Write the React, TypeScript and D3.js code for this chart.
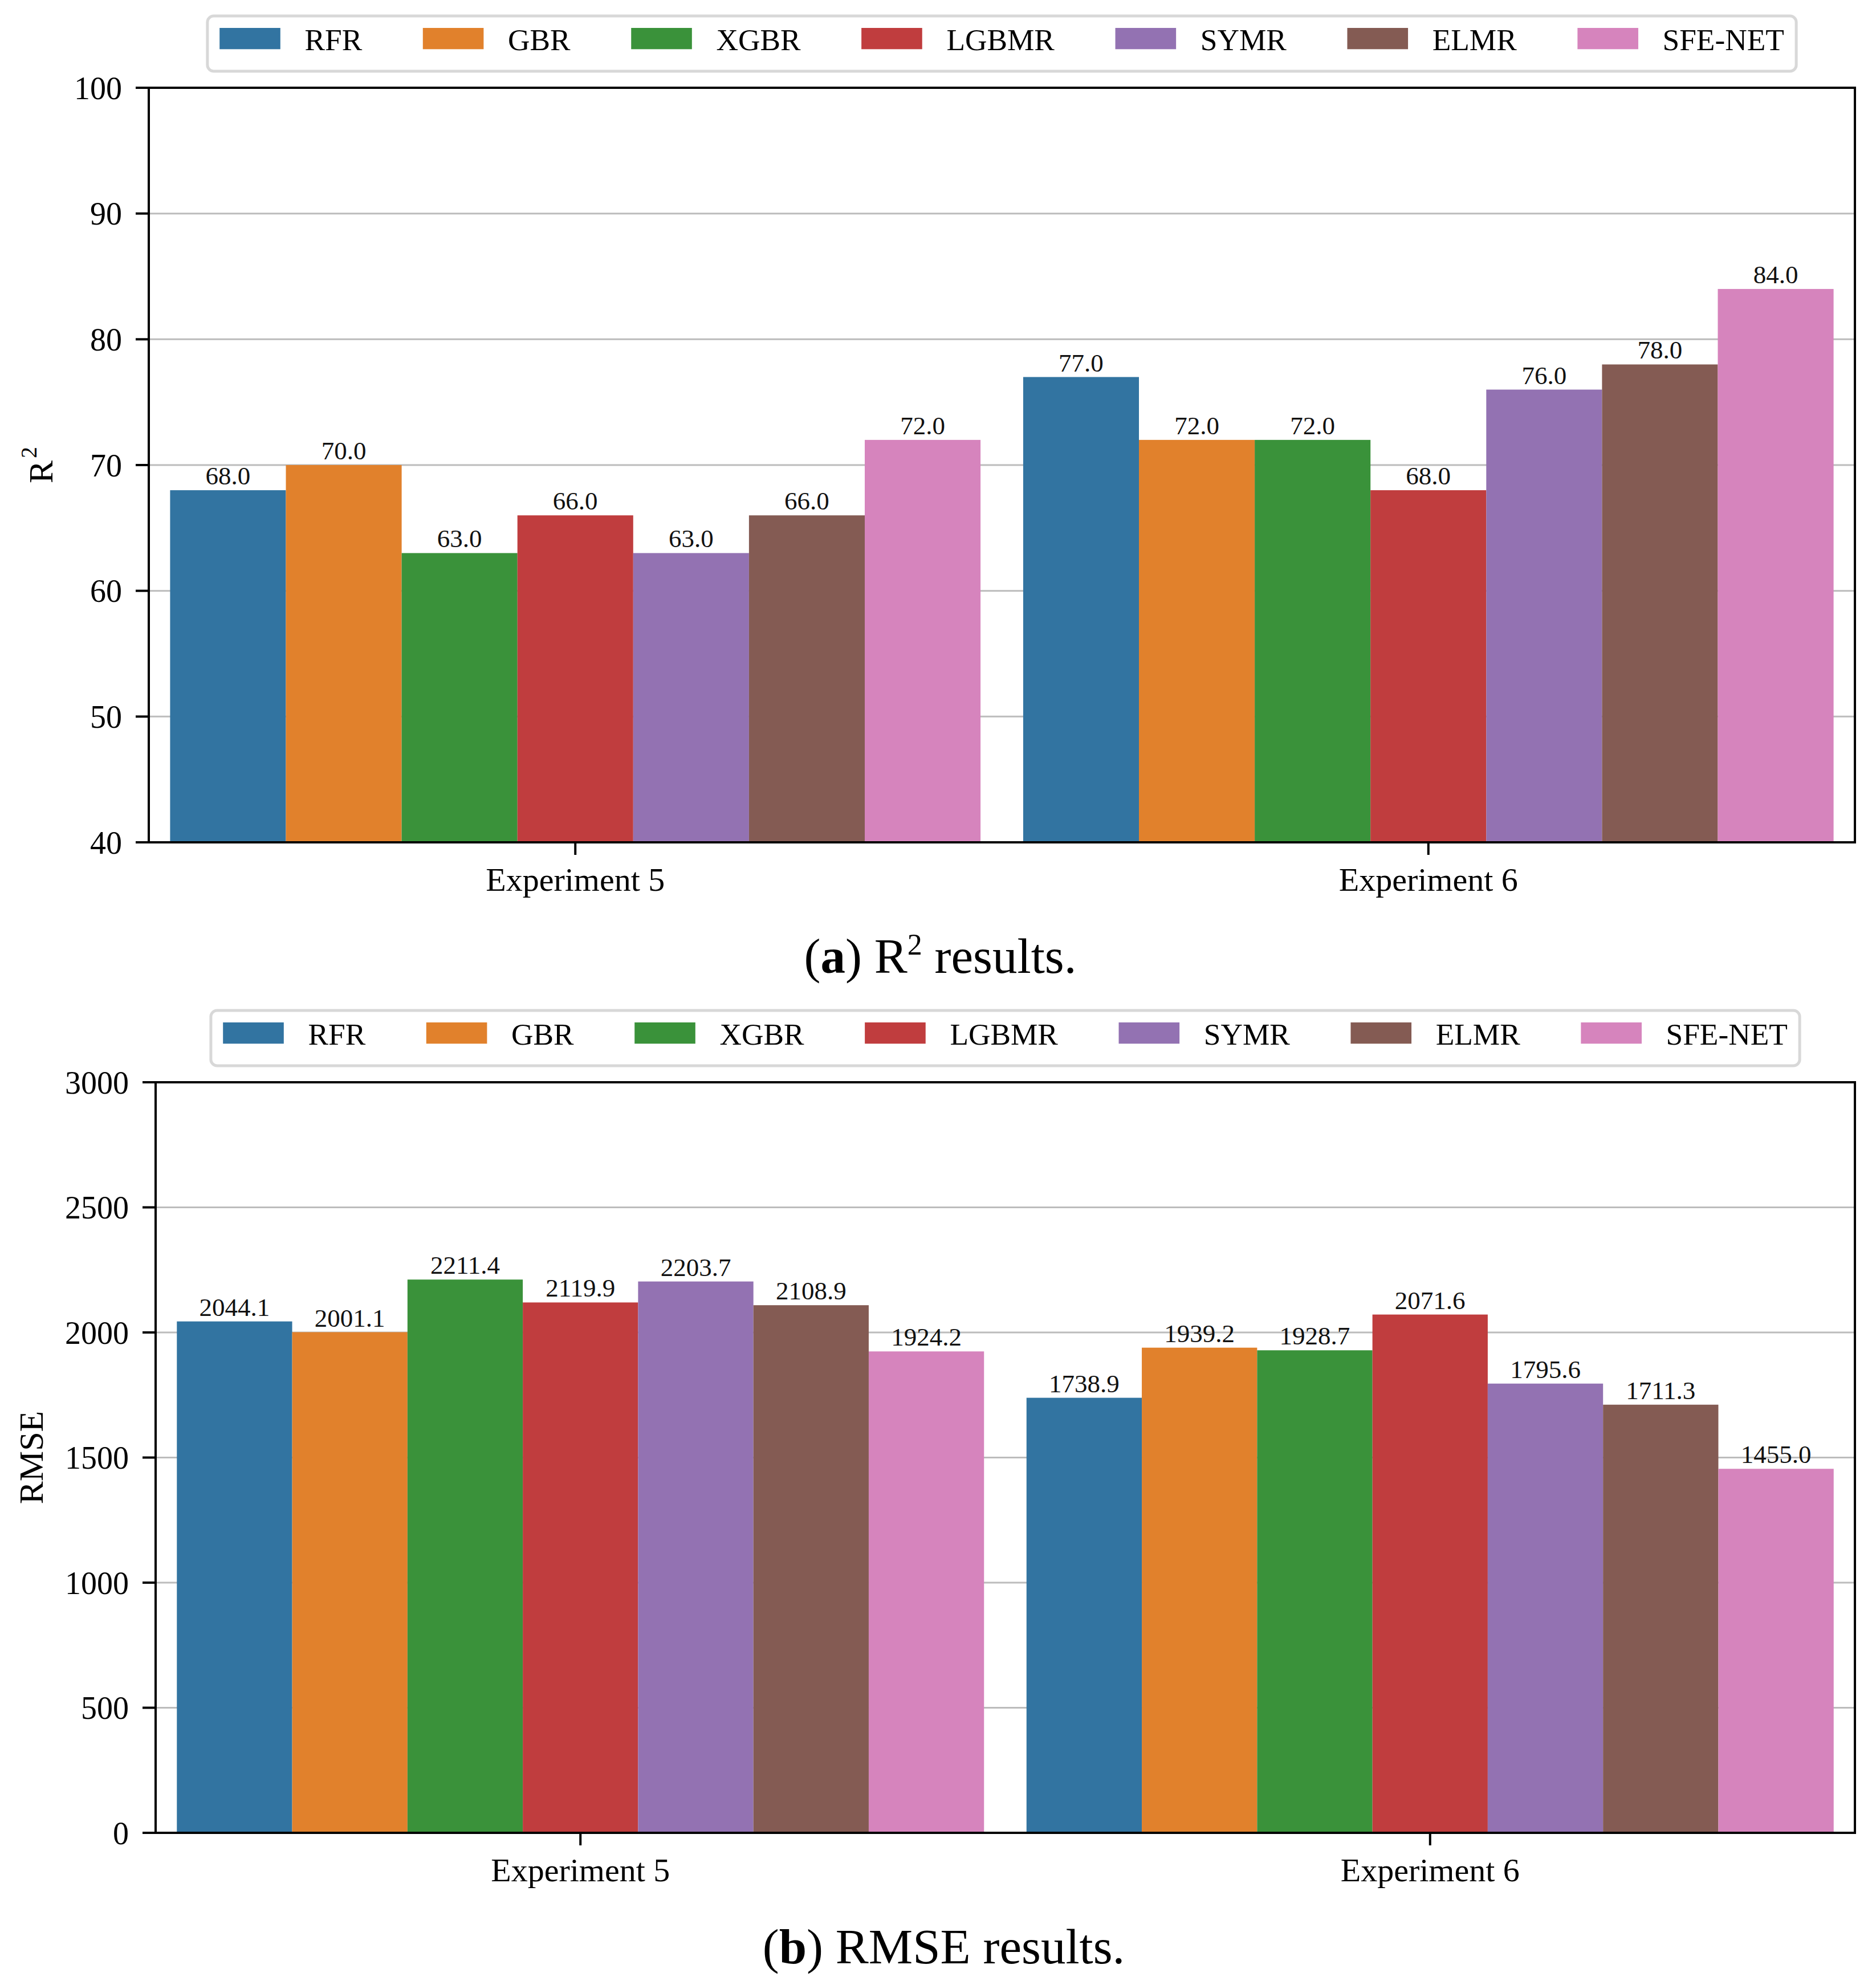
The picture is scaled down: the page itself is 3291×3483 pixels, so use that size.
import React, { useEffect, useRef } from "react";
import * as d3 from "d3";

// Data
const experiments = ["Experiment 5", "Experiment 6"];
const models = ["RFR", "GBR", "XGBR", "LGBMR", "SYMR", "ELMR", "SFE-NET"];
const colors = ["#3274a1", "#e1812c", "#3a923a", "#c03d3e", "#9372b2", "#845b53", "#d684bd"];

const r2Exp5 = [68.0, 70.0, 63.0, 66.0, 63.0, 66.0, 72.0];
const r2Exp6 = [77.0, 72.0, 72.0, 68.0, 76.0, 78.0, 84.0];
const rmseExp5 = [2044.1, 2001.1, 2211.4, 2119.9, 2203.7, 2108.9, 1924.2];
const rmseExp6 = [1738.9, 1939.2, 1928.7, 2071.6, 1795.6, 1711.3, 1455.0];

const r2Ticks = [40, 50, 60, 70, 80, 90, 100];
const rmseTicks = [0, 500, 1000, 1500, 2000, 2500, 3000];

const W = 3291;
const H = 3483;
const FONT = "'Liberation Serif', 'Times New Roman', serif";

interface PanelOpts {
    left: number;
    right: number;
    top: number;
    bottom: number;
    ticks: number[];
    values: number[][];
    legendTop: number;
    yLabel: string;
    yLabelSup?: string;
    yLabelX: number;
    captionLetter: string;
    captionText: string;
    captionSup?: string;
    captionTail?: string;
    captionY: number;
}

function drawPanel(svg: d3.Selection<SVGSVGElement, unknown, null, undefined>, o: PanelOpts) {
    const g = svg.append("g").style("font-family", FONT);

    const x0 = d3.scaleBand<string>()
        .domain(experiments)
        .range([o.left, o.right])
        .padding(0);

    const groupW = x0.bandwidth() * 0.95;
    const x1 = d3.scaleBand<string>()
        .domain(models)
        .range([0, groupW])
        .padding(0);

    const y = d3.scaleLinear()
        .domain([o.ticks[0], o.ticks[o.ticks.length - 1]])
        .range([o.bottom, o.top]);

    // Grid lines (behind the bars)
    g.append("g")
        .selectAll("line")
        .data(o.ticks)
        .join("line")
        .attr("x1", o.left)
        .attr("x2", o.right)
        .attr("y1", d => y(d))
        .attr("y2", d => y(d))
        .attr("stroke", "#bcbcbc")
        .attr("stroke-width", 3);

    // Bars
    const fmt = d3.format(".1f");
    experiments.forEach((exp, ei) => {
        const gx = x0(exp)! + (x0.bandwidth() - groupW) / 2;
        const grp = g.append("g").attr("transform", `translate(${gx},0)`);

        grp.selectAll("rect")
            .data(o.values[ei])
            .join("rect")
            .attr("x", (_, i) => x1(models[i])!)
            .attr("width", x1.bandwidth())
            .attr("y", d => y(d))
            .attr("height", d => o.bottom - y(d))
            .attr("fill", (_, i) => colors[i]);

        grp.selectAll("text")
            .data(o.values[ei])
            .join("text")
            .attr("x", (_, i) => x1(models[i])! + x1.bandwidth() / 2)
            .attr("y", d => y(d) - 10)
            .attr("text-anchor", "middle")
            .attr("font-size", 45)
            .attr("fill", "#111")
            .text(d => fmt(d));
    });

    // Spines
    g.append("rect")
        .attr("x", o.left)
        .attr("y", o.top)
        .attr("width", o.right - o.left)
        .attr("height", o.bottom - o.top)
        .attr("fill", "none")
        .attr("stroke", "#000")
        .attr("stroke-width", 4);

    // Y ticks
    const yt = g.append("g");
    yt.selectAll("line")
        .data(o.ticks)
        .join("line")
        .attr("x1", o.left - 23)
        .attr("x2", o.left)
        .attr("y1", d => y(d))
        .attr("y2", d => y(d))
        .attr("stroke", "#000")
        .attr("stroke-width", 4);
    yt.selectAll("text")
        .data(o.ticks)
        .join("text")
        .attr("x", o.left - 47)
        .attr("y", d => y(d))
        .attr("dy", "0.35em")
        .attr("text-anchor", "end")
        .attr("font-size", 56)
        .attr("fill", "#000")
        .text(d => d);

    // X ticks
    const xt = g.append("g");
    xt.selectAll("line")
        .data(experiments)
        .join("line")
        .attr("x1", d => x0(d)! + x0.bandwidth() / 2)
        .attr("x2", d => x0(d)! + x0.bandwidth() / 2)
        .attr("y1", o.bottom)
        .attr("y2", o.bottom + 22)
        .attr("stroke", "#000")
        .attr("stroke-width", 4);
    xt.selectAll("text")
        .data(experiments)
        .join("text")
        .attr("x", d => x0(d)! + x0.bandwidth() / 2)
        .attr("y", o.bottom + 85)
        .attr("text-anchor", "middle")
        .attr("font-size", 58)
        .attr("fill", "#000")
        .text(d => d);

    // Y label
    const yl = g.append("text")
        .attr("transform", `translate(${o.yLabelX},${(o.top + o.bottom) / 2}) rotate(-90)`)
        .attr("text-anchor", "middle")
        .attr("font-size", 60)
        .attr("fill", "#000")
        .text(o.yLabel);
    if (o.yLabelSup) {
        yl.append("tspan")
            .attr("font-size", 40)
            .attr("dy", -28)
            .attr("dx", 4)
            .text(o.yLabelSup);
    }

    // Legend
    const fs = 53.3;
    const pad = 0.4 * fs;
    const handleW = 2 * fs;
    const handleH = 0.7 * fs;
    const textPad = 0.8 * fs;
    const colSpace = 2 * fs;

    const leg = g.append("g");
    const box = leg.append("rect");
    const entries = leg.append("g");
    let cx = 0;
    models.forEach((m, i) => {
        entries.append("rect")
            .attr("x", cx)
            .attr("y", 21)
            .attr("width", handleW)
            .attr("height", handleH)
            .attr("fill", colors[i]);
        const t = entries.append("text")
            .attr("x", cx + handleW + textPad)
            .attr("y", 60)
            .attr("font-size", fs)
            .attr("fill", "#000")
            .text(m);
        const tw = (t.node() as SVGTextElement).getComputedTextLength();
        cx += handleW + textPad + tw + (i < models.length - 1 ? colSpace : 0);
    });
    const boxW = cx + 2 * pad;
    const boxX = (o.left + o.right) / 2 - boxW / 2;
    leg.attr("transform", `translate(${boxX},${o.legendTop})`);
    entries.attr("transform", `translate(${pad},0)`);
    box.attr("x", 0)
        .attr("y", 0)
        .attr("width", boxW)
        .attr("height", 97)
        .attr("rx", 11)
        .attr("fill", "#fff")
        .attr("stroke", "#d8d8d8")
        .attr("stroke-width", 5);

    // Caption
    const cap = g.append("text")
        .attr("x", (o.left + o.right) / 2 - 108)
        .attr("y", o.captionY)
        .attr("text-anchor", "middle")
        .attr("font-size", 87)
        .attr("fill", "#000");
    cap.append("tspan").text("(");
    cap.append("tspan").attr("font-weight", "bold").text(o.captionLetter);
    cap.append("tspan").text(") " + o.captionText);
    if (o.captionSup) {
        cap.append("tspan").attr("font-size", 52).attr("dy", -32).text(o.captionSup);
        cap.append("tspan").attr("dy", 32).text(o.captionTail ?? "");
    }
}

export default function App() {
    const svgRef = useRef<SVGSVGElement>(null);

    useEffect(() => {
        document.body.style.margin = "0";
        if (!svgRef.current) return;
        const svg = d3.select(svgRef.current);
        svg.selectAll("*").remove();

        svg.append("rect").attr("width", W).attr("height", H).attr("fill", "#fff");

        drawPanel(svg, {
            left: 261,
            right: 3254,
            top: 154,
            bottom: 1478,
            ticks: r2Ticks,
            values: [r2Exp5, r2Exp6],
            legendTop: 28,
            yLabel: "R",
            yLabelSup: "2",
            yLabelX: 92,
            captionLetter: "a",
            captionText: "R",
            captionSup: "2",
            captionTail: " results.",
            captionY: 1707,
        });

        drawPanel(svg, {
            left: 273,
            right: 3254,
            top: 1899,
            bottom: 3216,
            ticks: rmseTicks,
            values: [rmseExp5, rmseExp6],
            legendTop: 1773,
            yLabel: "RMSE",
            yLabelX: 75,
            captionLetter: "b",
            captionText: "RMSE results.",
            captionY: 3445,
        });
    }, []);

    return <svg ref={svgRef} width={W} height={H} style={{ display: "block" }} />;
}
